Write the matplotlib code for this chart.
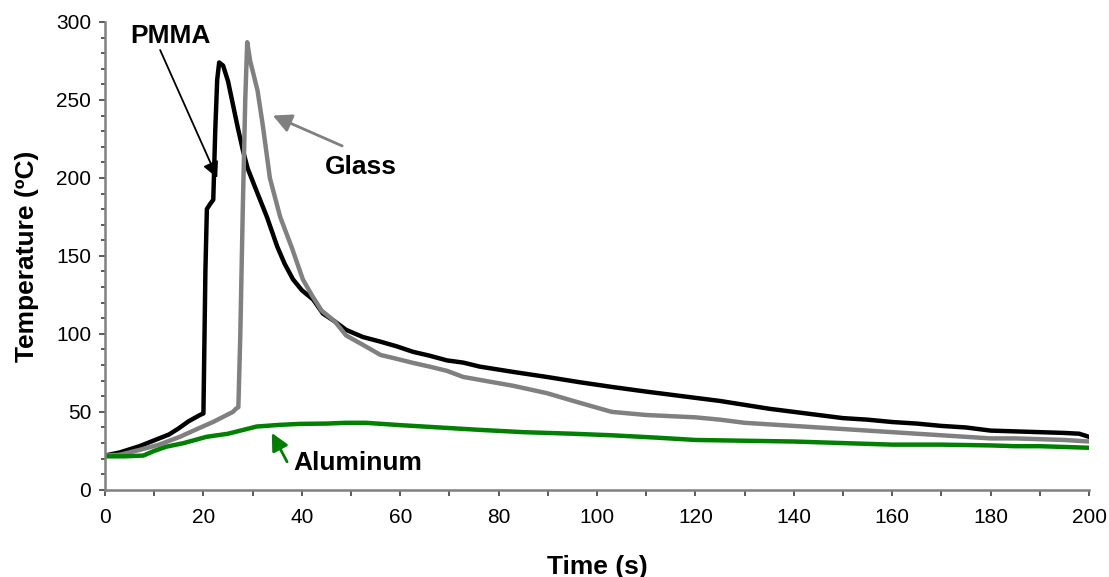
import matplotlib.pyplot as plt
import numpy as np

plt.rcParams['font.family'] = ['Liberation Sans', 'DejaVu Sans']

# PMMA (black)
t_pmma = [0, 3, 7, 11, 13, 15, 17, 19.3, 20, 20.4, 20.7, 21.3, 22, 22.4, 22.8, 23.2, 24, 25, 25.8, 27, 28,
          29, 30.5, 32.9, 35, 36.5, 38.2, 40, 42.3, 44.3, 46.7, 49, 52.4, 56, 59.3, 62.6, 66, 69.5, 72.8,
          76.2, 83, 89.8, 96.5, 103, 110, 120, 125, 130, 135, 140, 145, 150, 155, 160, 165, 170, 175,
          180, 185, 190, 195, 198, 200]
T_pmma = [22, 24, 28, 33, 35.5, 39.5, 44, 48, 49, 140, 180, 183, 186, 230, 263, 274, 272, 262, 250, 232, 218,
          206, 194, 175, 156, 145, 135, 128, 122, 113, 108, 102.6, 98, 95, 92, 88.5, 86, 83, 81.6,
          79, 75.6, 72.4, 69, 66, 63, 59, 57, 54.5, 52, 50, 48, 46, 45, 43.5, 42.5, 41, 40,
          38, 37.5, 37, 36.5, 36, 34]

# Glass (gray)
t_glass = [0, 3, 7, 11, 15.2, 18, 22, 26, 26.6, 27.1, 27.5, 28, 28.5, 28.9, 29.5, 31, 32.1, 33.5, 35.6, 38,
           40.2, 42, 44, 46.7, 49, 52.4, 56, 59.3, 62.6, 66, 69.5, 72.8, 76.2, 83, 89.8, 96.5, 103, 110,
           120, 125, 130, 135, 140, 145, 150, 155, 160, 165, 170, 175, 180, 185, 190, 195, 200]
T_glass = [22, 22.5, 25.6, 29, 34, 38, 43.6, 50, 52, 53, 100, 180, 250, 287, 275, 256, 233, 200, 175, 155,
           135, 125, 115, 108, 99, 93, 86.5, 84, 81.4, 79, 76.3, 72.4, 70.5, 66.7, 62, 55.8, 50, 48,
           46.5, 45, 43, 42, 41, 40, 39, 38, 37, 36, 35, 34, 33, 33, 32.5, 32, 31]

# Aluminum (green)
t_alu = [0, 4, 7.8, 10, 12.5, 16, 20.6, 25, 30.8, 35.6, 39.6, 45, 49, 53, 60, 68, 76, 85, 95, 103, 112,
         120, 130, 140, 150, 160, 170, 180, 185, 190, 195, 200]
T_alu = [21.5, 21.5, 22, 25, 27.7, 30, 34, 36, 40.6, 41.7, 42.3, 42.5, 43, 43, 41.5, 40, 38.5, 37, 36, 35,
         33.5, 32, 31.5, 31, 30, 29, 29, 28.5, 28, 28, 27.5, 27]

fig = plt.figure(figsize=(11.09, 5.77), dpi=100)
ax = fig.add_axes([0.0947, 0.151, 0.8873, 0.811])

ax.plot(t_pmma, T_pmma, color='black', lw=3.2, solid_joinstyle='round')
ax.plot(t_glass, T_glass, color='#808080', lw=3.2, solid_joinstyle='round')
ax.plot(t_alu, T_alu, color='green', lw=3.2, solid_joinstyle='round')

# annotations
ax.text(13.2, 291, 'PMMA', fontsize=19, fontweight='bold', ha='center', va='center')
ax.annotate('', xy=(22.8, 200), xytext=(11.2, 282),
            arrowprops=dict(arrowstyle='-|>', color='black', lw=1.3, mutation_scale=24, shrinkA=0, shrinkB=0))
ax.text(52, 207, 'Glass', fontsize=19, fontweight='bold', ha='center', va='center')
ax.annotate('', xy=(34.1, 240), xytext=(48.2, 220.5),
            arrowprops=dict(arrowstyle='-|>', color='#808080', lw=2, mutation_scale=28, shrinkA=0, shrinkB=0))
ax.text(38.2, 17, 'Aluminum', fontsize=19, fontweight='bold', ha='left', va='center')
ax.annotate('', xy=(33.9, 36.5), xytext=(37, 18),
            arrowprops=dict(arrowstyle='-|>', color='green', lw=2, mutation_scale=26, shrinkA=0, shrinkB=0))

ax.set_xlim(0, 200)
ax.set_ylim(0, 300)
ax.set_xticks(np.arange(0, 201, 20))
ax.set_xticks(np.arange(0, 201, 10), minor=True)
ax.set_yticks(np.arange(0, 301, 50))
ax.set_yticks(np.arange(0, 301, 10), minor=True)
ax.tick_params(which='both', direction='out', colors='#404040', labelcolor='black', labelsize=15,
               width=1.2)
ax.tick_params(axis='y', which='major', length=4, pad=6)
ax.tick_params(axis='y', which='minor', length=3)
ax.tick_params(axis='x', which='both', length=4, pad=9)

for s in ['top', 'right']:
    ax.spines[s].set_visible(False)
for s in ['left', 'bottom']:
    ax.spines[s].set_color('#808080')
    ax.spines[s].set_linewidth(1.8)

ax.set_xlabel('Time (s)', fontsize=19, fontweight='bold', labelpad=20)
ax.set_ylabel('Temperature (ºC)', fontsize=19, fontweight='bold', labelpad=12)

fig.savefig('out.png', dpi=100)
